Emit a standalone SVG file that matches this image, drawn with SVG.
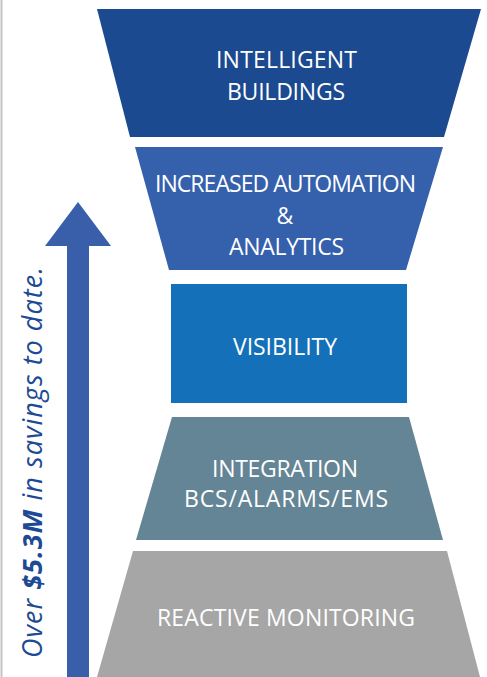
<svg xmlns="http://www.w3.org/2000/svg" width="487" height="677" viewBox="0 0 487 677">
<style>
.lbl{font-family:"Open Sans","Noto Sans","Liberation Sans",sans-serif;font-size:23px;fill:#ffffff;text-anchor:middle}
.side{font-family:"Open Sans","Noto Sans","Liberation Sans",sans-serif;font-size:27px;font-style:italic;fill:#1d4a94}
</style>
<rect x="0" y="0" width="487" height="677" fill="#ffffff"/>
<line x1="1.5" y1="0" x2="1.5" y2="677" stroke="#c4c4c4" stroke-width="2"/>
<g id="intelligent-buildings">
<polygon points="97,9 481,9 444,137 130,137" fill="#1b4a90"/>
<text class="lbl" x="286.5" y="68" textLength="141" lengthAdjust="spacing">INTELLIGENT</text>
<text class="lbl" x="286" y="100" textLength="118" lengthAdjust="spacing">BUILDINGS</text>
</g>
<g id="automation-analytics">
<polygon points="135,147 443,147 406,270 169,270" fill="#3560ac"/>
<text class="lbl" x="285.5" y="192" textLength="261" lengthAdjust="spacing">INCREASED AUTOMATION</text>
<text class="lbl" x="285" y="224">&amp;</text>
<text class="lbl" x="286.5" y="255" textLength="115" lengthAdjust="spacing">ANALYTICS</text>
</g>
<g id="visibility">
<rect x="171" y="284" width="236" height="119" fill="#1470b8"/>
<text class="lbl" x="285" y="355" textLength="104" lengthAdjust="spacing">VISIBILITY</text>
</g>
<g id="integration">
<polygon points="172,417 409,417 443,540 136,540" fill="#648595"/>
<text class="lbl" x="285" y="477" textLength="146" lengthAdjust="spacing">INTEGRATION</text>
<text class="lbl" x="286" y="507" textLength="204" lengthAdjust="spacing">BCS/ALARMS/EMS</text>
</g>
<g id="reactive-monitoring">
<polygon points="133,551 447,551 480,677 97,677" fill="#a6a6a6"/>
<text class="lbl" x="286" y="626" textLength="258" lengthAdjust="spacing">REACTIVE MONITORING</text>
</g>
<g id="connectors">
<polygon points="78,202 111,246 89,246 89,677 67,677 67,246 45,246" fill="#3a5faa"/>
</g>
<g id="savings-label">
<text class="side" transform="translate(42,658) rotate(-90)" x="0" y="0" textLength="391" lengthAdjust="spacing">Over <tspan font-weight="bold">$5.3M</tspan> in savings to date.</text>
</g>
</svg>
